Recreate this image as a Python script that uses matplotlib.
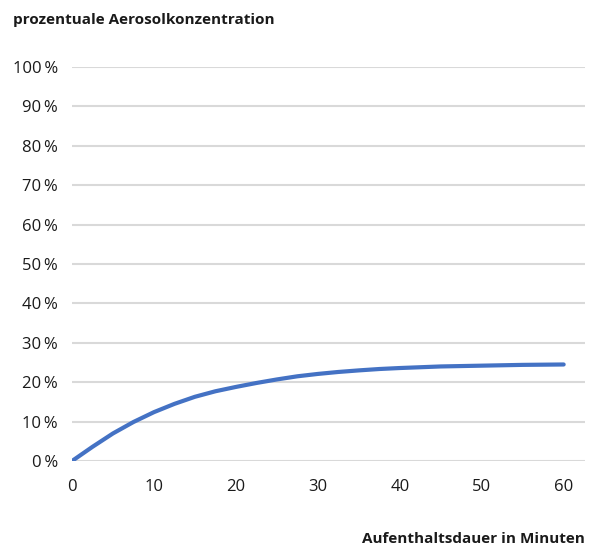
import matplotlib
matplotlib.use("Agg")
import matplotlib.pyplot as plt
from matplotlib.ticker import FuncFormatter

plt.rcParams['font.family'] = ['Open Sans', 'DejaVu Sans']

# Aufenthaltsdauer (min) und prozentuale Aerosolkonzentration
minuten = [0, 2.5, 5, 7.5, 10, 12.5, 15, 17.5, 20, 22.5, 25, 27.5, 30,
           32.5, 35, 37.5, 40, 42.5, 45, 47.5, 50, 52.5, 55, 57.5, 60]
konzentration = [0, 3.6, 7.0, 9.9, 12.4, 14.5, 16.3, 17.7, 18.8, 19.8, 20.7, 21.5, 22.1,
                 22.6, 23.0, 23.35, 23.6, 23.8, 24.0, 24.1, 24.2, 24.3, 24.4, 24.45, 24.5]

x_ticks = [0, 10, 20, 30, 40, 50, 60]
y_ticks = [0, 10, 20, 30, 40, 50, 60, 70, 80, 90, 100]

fig = plt.figure(figsize=(5.94, 5.47), dpi=100)
ax = fig.add_axes([0.1212, 0.1572, 0.8636, 0.7203])

ax.plot(minuten, konzentration, color='#4472C4', lw=3, solid_capstyle='round',
        solid_joinstyle='round', zorder=3)

ax.set_xlim(0, 62.6)
ax.set_ylim(0, 100)
ax.set_xticks(x_ticks)
ax.set_yticks(y_ticks)
ax.yaxis.set_major_formatter(FuncFormatter(lambda v, p: f"{int(v)}\u2009%"))
ax.grid(axis='y', color='#d9d9d9', lw=1.5, zorder=0)
ax.set_axisbelow(True)
for s in ax.spines.values():
    s.set_visible(False)
ax.tick_params(axis='both', length=0, labelsize=12, colors='#1a1a1a')
ax.tick_params(axis='y', pad=10)
ax.tick_params(axis='x', pad=13)

fig.text(13 / 594, 1 - 20 / 547, 'prozentuale Aerosolkonzentration', fontsize=11,
         fontweight='bold', ha='left', va='center', color='#1a1a1a')
fig.text(585 / 594, 1 - 539 / 547, 'Aufenthaltsdauer in Minuten', fontsize=11,
         fontweight='bold', ha='right', va='center', color='#1a1a1a')

fig.savefig('out.png', dpi=100)
